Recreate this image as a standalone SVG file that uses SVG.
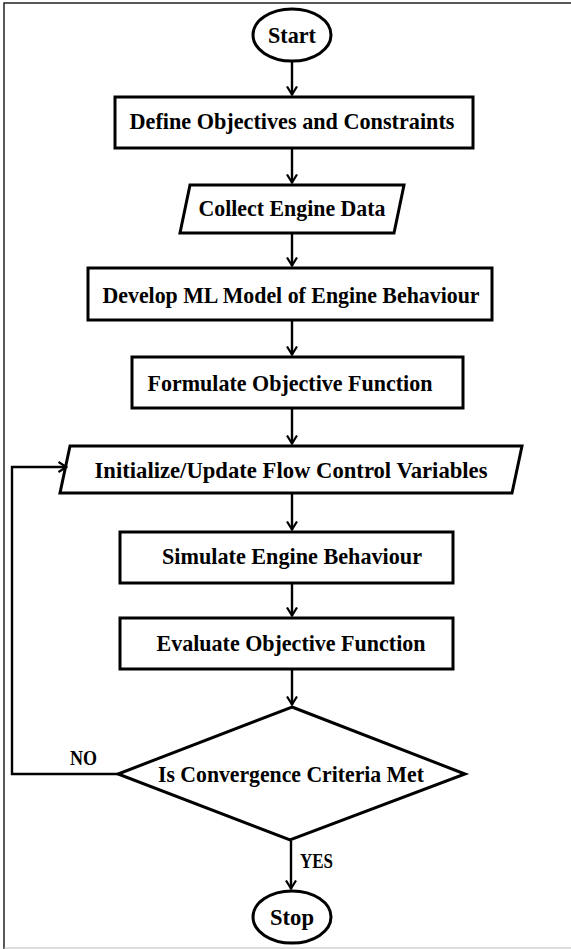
<svg xmlns="http://www.w3.org/2000/svg" width="571" height="949" viewBox="0 0 571 949">
<defs>
<marker id="ah" viewBox="0 0 10 12" refX="9.5" refY="6" markerWidth="10" markerHeight="12" markerUnits="userSpaceOnUse" orient="auto">
<path d="M1,1 L9,6 L1,11" fill="none" stroke="#000" stroke-width="2.2" stroke-linejoin="miter"/>
</marker>
</defs>
<style>
.sh{fill:#fff;stroke:#000;stroke-width:3;}
.t{font-family:"Liberation Serif","DejaVu Serif",serif;font-weight:bold;font-size:22.5px;fill:#000;text-anchor:middle;}
.lb{font-family:"Liberation Serif","DejaVu Serif",serif;font-weight:bold;font-size:21px;fill:#000;}
.c{fill:none;stroke:#000;stroke-width:2.4;}
</style>
<rect x="0" y="0" width="571" height="949" fill="#fff"/>
<path d="M4,949 L4,3 L571,3" fill="none" stroke="#222" stroke-width="1.5"/>
<line x1="4" y1="948" x2="571" y2="948" stroke="#bbb" stroke-width="1"/>

<g id="start">
<ellipse class="sh" cx="292" cy="35" rx="39" ry="26"/>
<text class="t" x="292" y="43" textLength="48" lengthAdjust="spacingAndGlyphs">Start</text>
</g>
<g id="define">
<rect class="sh" x="115" y="97" width="358" height="51"/>
<text class="t" x="292" y="129" textLength="325" lengthAdjust="spacingAndGlyphs">Define Objectives and Constraints</text>
</g>
<g id="collect">
<polygon class="sh" points="190,185 404,185 394,233 180,233"/>
<text class="t" x="292" y="216" textLength="187" lengthAdjust="spacingAndGlyphs">Collect Engine Data</text>
</g>
<g id="develop">
<rect class="sh" x="88" y="268" width="404" height="52"/>
<text class="t" x="291" y="303" textLength="377" lengthAdjust="spacingAndGlyphs">Develop ML Model of Engine Behaviour</text>
</g>
<g id="formulate">
<rect class="sh" x="132" y="357" width="331" height="51"/>
<text class="t" x="290" y="391" textLength="285" lengthAdjust="spacingAndGlyphs">Formulate Objective Function</text>
</g>
<g id="initialize">
<polygon class="sh" points="70,446 522,446 512,493 60,493"/>
<text class="t" x="291" y="478" textLength="393" lengthAdjust="spacingAndGlyphs">Initialize/Update Flow Control Variables</text>
</g>
<g id="simulate">
<rect class="sh" x="120" y="532" width="333" height="51"/>
<text class="t" x="292" y="564" textLength="260" lengthAdjust="spacingAndGlyphs">Simulate Engine Behaviour</text>
</g>
<g id="evaluate">
<rect class="sh" x="120" y="618" width="333" height="51"/>
<text class="t" x="291" y="651" textLength="269" lengthAdjust="spacingAndGlyphs">Evaluate Objective Function</text>
</g>
<g id="decision">
<polygon class="sh" points="292,707 465,774 290,840 118,774"/>
<text class="t" x="291" y="782" textLength="266" lengthAdjust="spacingAndGlyphs">Is Convergence Criteria Met</text>
</g>
<g id="stop">
<ellipse class="sh" cx="292" cy="917" rx="39" ry="26"/>
<text class="t" x="292" y="925" textLength="44" lengthAdjust="spacingAndGlyphs">Stop</text>
</g>

<g id="connectors">
<line class="c" x1="292" y1="62" x2="292" y2="95" marker-end="url(#ah)"/>
<line class="c" x1="292" y1="149" x2="292" y2="183" marker-end="url(#ah)"/>
<line class="c" x1="292" y1="234" x2="292" y2="266" marker-end="url(#ah)"/>
<line class="c" x1="292" y1="321" x2="292" y2="355" marker-end="url(#ah)"/>
<line class="c" x1="292" y1="409" x2="292" y2="444" marker-end="url(#ah)"/>
<line class="c" x1="292" y1="494" x2="292" y2="530" marker-end="url(#ah)"/>
<line class="c" x1="292" y1="584" x2="292" y2="616" marker-end="url(#ah)"/>
<line class="c" x1="292" y1="670" x2="292" y2="705" marker-end="url(#ah)"/>
<line class="c" x1="291" y1="841" x2="291" y2="889" marker-end="url(#ah)"/>
<polyline class="c" points="118,774 12,774 12,467 67,467" marker-end="url(#ah)"/>
<text class="lb" x="70" y="765" textLength="27" lengthAdjust="spacingAndGlyphs">NO</text>
<text class="lb" x="300" y="868" textLength="33" lengthAdjust="spacingAndGlyphs">YES</text>
</g>
</svg>
